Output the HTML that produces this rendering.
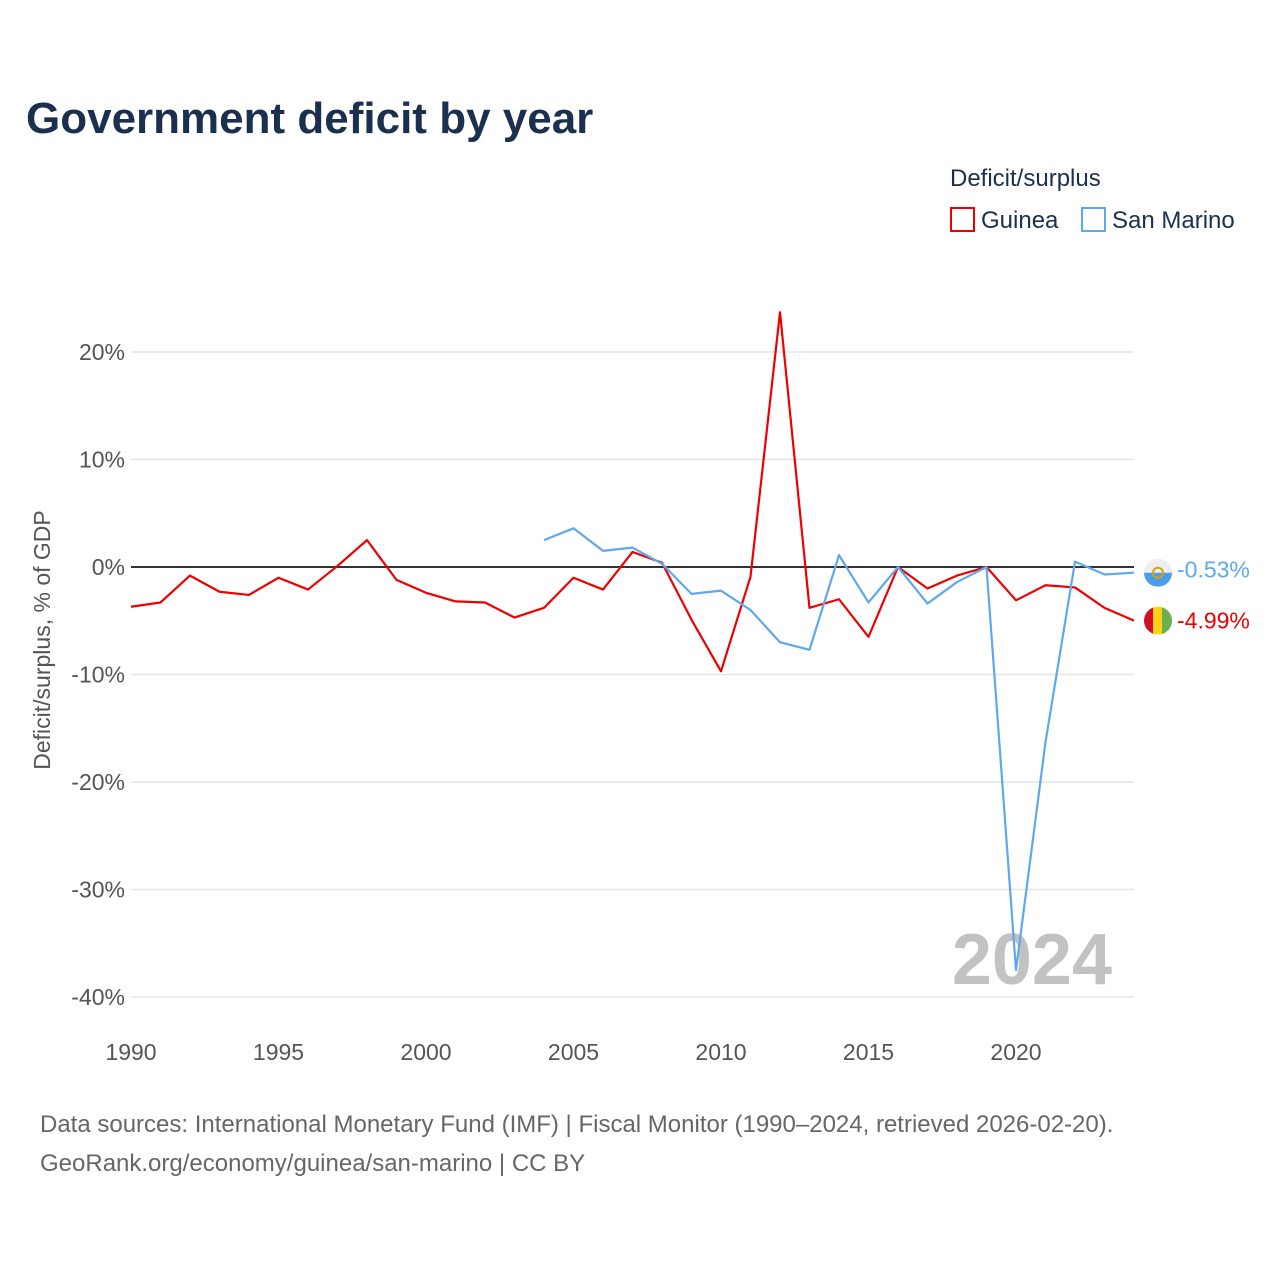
<!DOCTYPE html>
<html><head><meta charset="utf-8">
<style>
html,body{margin:0;padding:0;background:#fff;}
body{width:1280px;height:1280px;overflow:hidden;font-family:"Liberation Sans",sans-serif;}
</style></head>
<body>
<svg id="chart" width="1280" height="1280" xmlns="http://www.w3.org/2000/svg">
<text x="26" y="133" font-size="44" font-weight="bold" fill="#1b2f4f">Government deficit by year</text>
<text x="950" y="186" font-size="24" fill="#1b2f4f">Deficit/surplus</text>
<g>
<rect x="951" y="208" width="23" height="23" fill="none" stroke="#ee0000" stroke-width="2"/>
<text x="981" y="228" font-size="24" fill="#1b2f4f">Guinea</text></g>
<g>
<rect x="1082" y="208" width="23" height="23" fill="none" stroke="#5ea8ec" stroke-width="2"/>
<text x="1112" y="228" font-size="24" fill="#1b2f4f">San Marino</text></g>
<g id="grid"></g><g id="yticks"></g><g id="xticks"></g>
<text x="1112" y="984" font-size="72" font-weight="bold" fill="#c2c2c2" text-anchor="end">2024</text>
<g id="series"></g>
<text transform="translate(50,640) rotate(-90)" font-size="23" fill="#555" text-anchor="middle">Deficit/surplus, % of GDP</text>
<text x="40" y="1132" font-size="24" fill="#666">Data sources: International Monetary Fund (IMF) | Fiscal Monitor (1990–2024, retrieved 2026-02-20).</text>
<text x="40" y="1171" font-size="24" fill="#666">GeoRank.org/economy/guinea/san-marino | CC BY</text>
</svg>
<script>
const yTicks=[20,10,0,-10,-20,-30,-40];
const xTicks=[1990,1995,2000,2005,2010,2015,2020];
const guineaYears=[1990,1991,1992,1993,1994,1995,1996,1997,1998,1999,2000,2001,2002,2003,2004,2005,2006,2007,2008,2009,2010,2011,2012,2013,2014,2015,2016,2017,2018,2019,2020,2021,2022,2023,2024];
const guineaValues=[-3.7,-3.3,-0.8,-2.3,-2.6,-1.0,-2.1,0.1,2.5,-1.2,-2.4,-3.2,-3.3,-4.7,-3.8,-1.0,-2.1,1.4,0.4,-4.9,-9.7,-0.9,23.7,-3.8,-3.0,-6.5,0,-2.0,-0.8,0,-3.1,-1.7,-1.9,-3.8,-4.99];
const smYears=[2004,2005,2006,2007,2008,2009,2010,2011,2012,2013,2014,2015,2016,2017,2018,2019,2020,2021,2022,2023,2024];
const smValues=[2.5,3.6,1.5,1.8,0.3,-2.5,-2.2,-4.0,-7.0,-7.7,1.1,-3.3,0,-3.4,-1.4,0,-37.5,-16.3,0.5,-0.7,-0.53];
const NS="http://www.w3.org/2000/svg";
const X=y=>131+(y-1990)*29.5;
const Y=v=>567-v*10.75;
function mk(t,a,p){const e=document.createElementNS(NS,t);for(const k in a)e.setAttribute(k,a[k]);p.appendChild(e);return e;}
const grid=document.getElementById('grid'),yt=document.getElementById('yticks'),xt=document.getElementById('xticks'),ser=document.getElementById('series');
yTicks.forEach(v=>{
 const l=mk('line',{x1:131,x2:1134,y1:Y(v),y2:Y(v),stroke:v===0?'#333':'#e6e6e6','stroke-width':v===0?2:1.5},grid);
 
 
 const t=mk('text',{x:125,y:Y(v)+8,'font-size':23,fill:'#555','text-anchor':'end'},yt);
 t.textContent=v+'%';
 
 
});
xTicks.forEach(v=>{
 const t=mk('text',{x:X(v),y:1060,'font-size':23,fill:'#555','text-anchor':'middle'},xt);
 t.textContent=v;
 
 
});
function line(years,vals,color,name){
 const p=mk('polyline',{points:years.map((y,i)=>X(y)+','+Y(vals[i])).join(' '),fill:'none',stroke:color,'stroke-width':2.2,'stroke-linejoin':'round'},ser);
 
 
}
line(guineaYears,guineaValues,'#ee0000','guinea-line');
line(smYears,smValues,'#5ea8ec','san-marino-line');
// end markers
const gy=Y(guineaValues[guineaValues.length-1]),sy=Y(smValues[smValues.length-1]);
const g1=mk('g',{},ser);


mk('clipPath',{id:'cg'},g1);mk('circle',{cx:1158,cy:gy,r:14},g1.querySelector('#cg'));
const gg=mk('g',{'clip-path':'url(#cg)'},g1);
mk('rect',{x:1144,y:gy-14,width:10,height:28,fill:'#ce1126'},gg);
mk('rect',{x:1153,y:gy-14,width:10,height:28,fill:'#fcd116'},gg);
mk('rect',{x:1162,y:gy-14,width:10,height:28,fill:'#6ab04c'},gg);
const g2=mk('g',{},ser);


mk('clipPath',{id:'cs'},g2);mk('circle',{cx:1158,cy:sy,r:14},g2.querySelector('#cs'));
const sg=mk('g',{'clip-path':'url(#cs)'},g2);
mk('rect',{x:1144,y:sy-14,width:28,height:14,fill:'#eeeeee'},sg);
mk('rect',{x:1144,y:sy,width:28,height:14,fill:'#4a9ee8'},sg);
mk('circle',{cx:1158,cy:sy,r:5,fill:'none',stroke:'#d4a017','stroke-width':2},sg);
const l1=mk('text',{x:1177,y:gy+8,'font-size':23,fill:'#ee0000'},ser);
l1.textContent=guineaValues[guineaValues.length-1].toFixed(2)+'%';


const l2=mk('text',{x:1177,y:sy+5,'font-size':23,fill:'#5ea8ec'},ser);
l2.textContent=smValues[smValues.length-1].toFixed(2)+'%';


</script>
</body></html>
